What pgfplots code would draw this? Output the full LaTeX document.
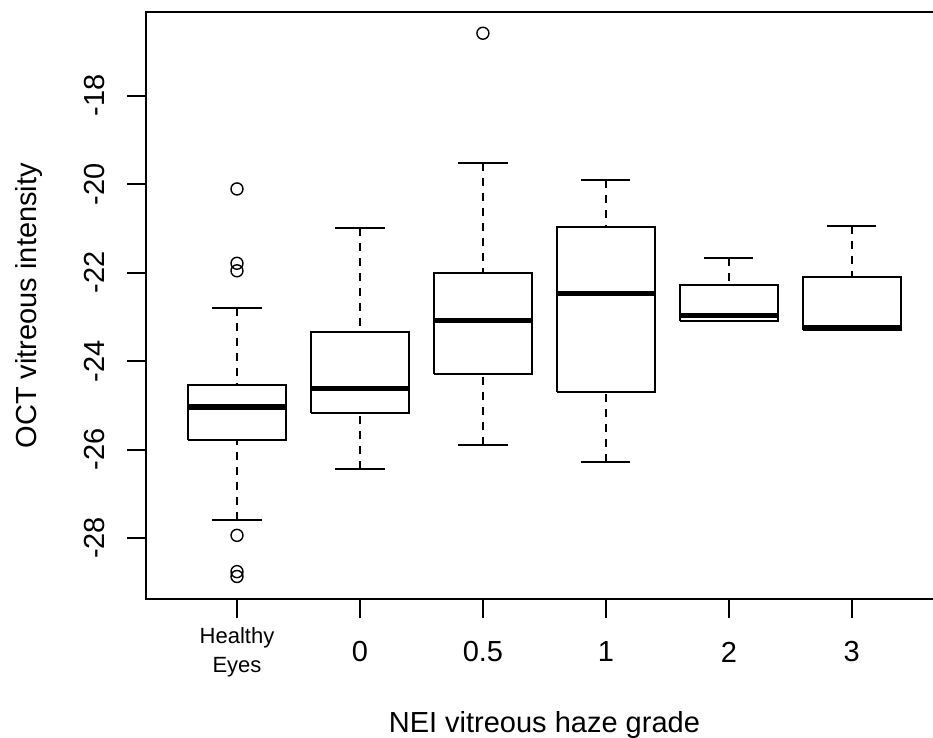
\documentclass[border=0pt]{standalone}
\usepackage{pgfplots}
\pgfplotsset{compat=1.18}
\usepackage{fontspec}
\setmainfont{Liberation Sans}
\pgfplotsset{
  bx/.style={black, line width=1pt, line cap=square, line join=miter, no markers},
  md/.style={black, line width=2.6pt, line cap=butt, no markers},
  wk/.style={black, line width=1pt, dash pattern=on 4pt off 3.5pt, no markers},
  st/.style={black, line width=1pt, no markers},
  ol/.style={black, only marks, mark=o, mark size=3pt, mark options={line width=0.7pt}},
}
\begin{document}
\begin{tikzpicture}
\begin{axis}[
  name=ax,
  scale only axis,
  width=398.4pt, height=293.75pt,
  xmin=0.26, xmax=6.74,
  ymin=-29.39, ymax=-16.11,
  axis line style={line width=1pt},
  every tick/.style={black, line width=1pt},
  tick align=outside,
  major tick length=9.5pt,
  xtick pos=bottom, ytick pos=left,
  xtick={1,2,3,4,5,6},
  xticklabels={{\fontsize{11}{13}\selectfont Healthy\\[-2.5pt]\fontsize{11}{13}\selectfont Eyes},0,0.5,1,2,3},
  xticklabel style={align=center, anchor=center, inner sep=0pt, font=\fontsize{14.5}{17}\selectfont},
  xticklabel shift=16.75pt,
  ytick={-28,-26,-24,-22,-20,-18},
  yticklabels={-28,-26,-24,-22,-20,-18},
  yticklabel style={rotate=90, anchor=south, inner sep=0pt, font=\fontsize{14.5}{17}\selectfont},
  yticklabel shift=11pt,
  xlabel={NEI vitreous haze grade},
  ylabel={OCT vitreous intensity},
  every axis x label/.style={at={(axis description cs:0.5,-0.227)}, anchor=base, font=\fontsize{14.5}{17}\selectfont},
  every axis y label/.style={at={(axis description cs:-0.137,0.5)}, rotate=90, anchor=base, font=\fontsize{14.5}{17}\selectfont},
]
% ---- Healthy eyes (position 1)
\addplot[wk] coordinates {(1,-27.60) (1,-25.78)};
\addplot[wk] coordinates {(1,-22.81) (1,-24.55)};
\addplot[st] coordinates {(0.8,-27.60) (1.2,-27.60)};
\addplot[st] coordinates {(0.8,-22.81) (1.2,-22.81)};
\addplot[bx] coordinates {(0.6,-25.78) (1.4,-25.78) (1.4,-24.55) (0.6,-24.55) (0.6,-25.78)};
\addplot[md] coordinates {(0.6,-25.04) (1.4,-25.04)};
\addplot[ol] coordinates {(1,-20.11) (1,-21.79) (1,-21.96) (1,-27.94) (1,-28.76) (1,-28.87)};
% ---- grade 0 (position 2)
\addplot[wk] coordinates {(2,-26.45) (2,-25.17)};
\addplot[wk] coordinates {(2,-20.99) (2,-23.34)};
\addplot[st] coordinates {(1.8,-26.45) (2.2,-26.45)};
\addplot[st] coordinates {(1.8,-20.99) (2.2,-20.99)};
\addplot[bx] coordinates {(1.6,-25.17) (2.4,-25.17) (2.4,-23.34) (1.6,-23.34) (1.6,-25.17)};
\addplot[md] coordinates {(1.6,-24.62) (2.4,-24.62)};
% ---- grade 0.5 (position 3)
\addplot[wk] coordinates {(3,-25.90) (3,-24.29)};
\addplot[wk] coordinates {(3,-19.53) (3,-22.02)};
\addplot[st] coordinates {(2.8,-25.90) (3.2,-25.90)};
\addplot[st] coordinates {(2.8,-19.53) (3.2,-19.53)};
\addplot[bx] coordinates {(2.6,-24.29) (3.4,-24.29) (3.4,-22.02) (2.6,-22.02) (2.6,-24.29)};
\addplot[md] coordinates {(2.6,-23.09) (3.4,-23.09)};
\addplot[ol] coordinates {(3,-16.59)};
% ---- grade 1 (position 4)
\addplot[wk] coordinates {(4,-26.28) (4,-24.71)};
\addplot[wk] coordinates {(4,-19.91) (4,-20.98)};
\addplot[st] coordinates {(3.8,-26.28) (4.2,-26.28)};
\addplot[st] coordinates {(3.8,-19.91) (4.2,-19.91)};
\addplot[bx] coordinates {(3.6,-24.71) (4.4,-24.71) (4.4,-20.98) (3.6,-20.98) (3.6,-24.71)};
\addplot[md] coordinates {(3.6,-22.47) (4.4,-22.47)};
% ---- grade 2 (position 5)
\addplot[wk] coordinates {(5,-21.68) (5,-22.27)};
\addplot[st] coordinates {(4.8,-21.68) (5.2,-21.68)};
\addplot[bx] coordinates {(4.6,-23.09) (5.4,-23.09) (5.4,-22.27) (4.6,-22.27) (4.6,-23.09)};
\addplot[md] coordinates {(4.6,-22.97) (5.4,-22.97)};
% ---- grade 3 (position 6)
\addplot[wk] coordinates {(6,-20.94) (6,-22.11)};
\addplot[st] coordinates {(5.8,-20.94) (6.2,-20.94)};
\addplot[bx] coordinates {(5.6,-23.29) (6.4,-23.29) (6.4,-22.11) (5.6,-22.11) (5.6,-23.29)};
\addplot[md] coordinates {(5.6,-23.24) (6.4,-23.24)};
\end{axis}
\pgfresetboundingbox
\path[use as bounding box] ([shift={(-73pt,-69.25pt)}]ax.south west) rectangle ([shift={(393.5pt,299.75pt)}]ax.south west);
\end{tikzpicture}
\end{document}
